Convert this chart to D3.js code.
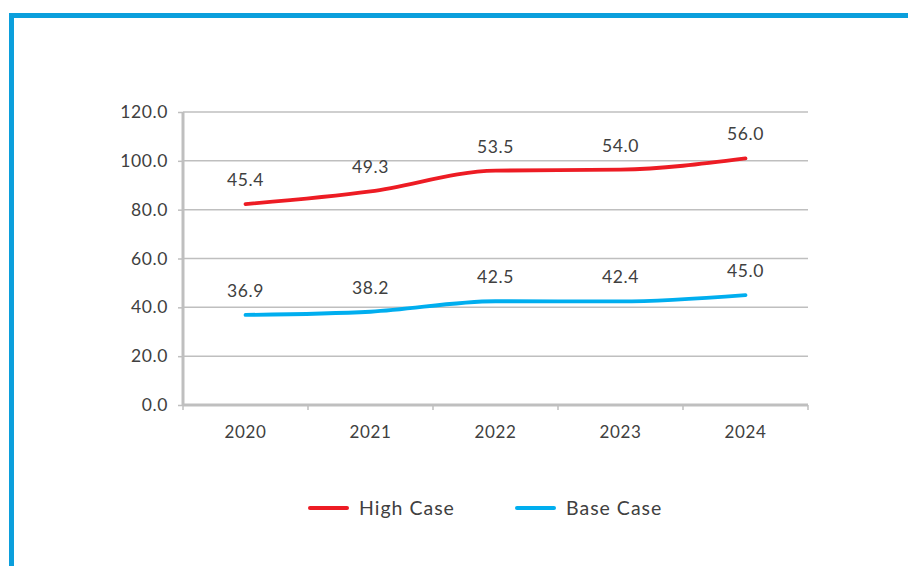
<!DOCTYPE html>
<html>
<head>
<meta charset="utf-8">
<script src="https://cdn.jsdelivr.net/npm/d3@7"></script>
<style>
  body { margin: 0; background: #fff; }
  text { font-family: "Lato", "DejaVu Sans", sans-serif; fill: #404040; letter-spacing: 0.6px; }
</style>
</head>
<body>
<div id="chart"></div>
<script>
/* DATA */
const years = ['2020', '2021', '2022', '2023', '2024'];
const baseCase = [36.9, 38.2, 42.5, 42.4, 45.0];
const highCase = [45.4, 49.3, 53.5, 54.0, 56.0];
const yTicks = [0, 20, 40, 60, 80, 100, 120];

/* LAYOUT */
const W = 908, H = 566;
const margin = { top: 112, right: 100, bottom: 161, left: 183 };
const width = W - margin.left - margin.right;
const height = H - margin.top - margin.bottom;
const red = '#ed1c24', blue = '#00aeef', grid = '#bfbfbf';

const svg = d3.select('#chart').append('svg')
  .attr('width', W).attr('height', H);

// frame
svg.append('path')
  .attr('d', `M11.5,${H} V15.5 H${W}`)
  .attr('fill', 'none').attr('stroke', '#0b9fdc').attr('stroke-width', 5);

const g = svg.append('g').attr('transform', `translate(${margin.left},${margin.top})`);

const x = d3.scaleBand().domain(years).range([0, width]);
const y = d3.scaleLinear().domain([0, 120]).range([height, 0]);

// gridlines
g.selectAll('.grid').data(yTicks.slice(1)).enter().append('line')
  .attr('x1', 0).attr('x2', width)
  .attr('y1', d => y(d)).attr('y2', d => y(d))
  .attr('stroke', grid).attr('stroke-width', 1.5);

// y axis
const yAxis = g.append('g').call(d3.axisLeft(y).tickValues(yTicks).tickSize(5).tickPadding(10).tickFormat(d3.format('.1f')));
yAxis.select('.domain').remove();
yAxis.selectAll('line').attr('stroke', grid).attr('stroke-width', 1.5);
yAxis.selectAll('text').style('font-size', '17.5px').attr('fill', '#404040');
g.append('line').attr('x1', 0).attr('x2', 0).attr('y1', 0).attr('y2', height + 1)
  .attr('stroke', grid).attr('stroke-width', 3);

// x axis
const xAxis = g.append('g').attr('transform', `translate(0,${height})`)
  .call(d3.axisBottom(x).tickSize(0).tickPadding(21));
xAxis.select('.domain').remove();
xAxis.selectAll('text').style('font-size', '17px').attr('fill', '#404040');
g.append('line').attr('x1', 0).attr('x2', width).attr('y1', height).attr('y2', height)
  .attr('stroke', grid).attr('stroke-width', 3);
g.selectAll('.xtick').data(years.concat(['end'])).enter().append('line')
  .attr('x1', (d, i) => i * x.step()).attr('x2', (d, i) => i * x.step())
  .attr('y1', height).attr('y2', height + 5)
  .attr('stroke', grid).attr('stroke-width', 1.5);

// stacked values
const stackedHigh = highCase.map((v, i) => v + baseCase[i]);
const cx = d => x(d) + x.bandwidth() / 2;

const line = d3.line()
  .x((d, i) => cx(years[i]))
  .y(d => y(d))
  .curve(d3.curveMonotoneX);

g.append('path').datum(baseCase).attr('d', line)
  .attr('fill', 'none').attr('stroke', blue).attr('stroke-width', 3.8).attr('stroke-linecap', 'round');
g.append('path').datum(stackedHigh).attr('d', line)
  .attr('fill', 'none').attr('stroke', red).attr('stroke-width', 3.8).attr('stroke-linecap', 'round');

// labels
const addLabels = (vals, pos) => {
  g.selectAll(null).data(vals).enter().append('text')
    .attr('x', (d, i) => cx(years[i]))
    .attr('y', (d, i) => y(pos[i]) - 18)
    .attr('text-anchor', 'middle')
    .style('font-size', '17.5px')
    .text(d => d3.format('.1f')(d));
};
addLabels(baseCase, baseCase);
addLabels(highCase, stackedHigh);

// legend
const legendItems = [
  { name: 'High Case', color: red, x: 310 },
  { name: 'Base Case', color: blue, x: 517 }
];
const legend = svg.selectAll('.legend').data(legendItems).enter().append('g')
  .attr('transform', d => `translate(${d.x},508)`);
legend.append('line').attr('x1', 0).attr('x2', 37).attr('y1', 0).attr('y2', 0)
  .attr('stroke', d => d.color).attr('stroke-width', 4).attr('stroke-linecap', 'round');
legend.append('text').attr('x', 49).attr('dy', '0.35em')
  .style('font-size', '19.5px').style('letter-spacing', '1px').text(d => d.name);
</script>
</body>
</html>
